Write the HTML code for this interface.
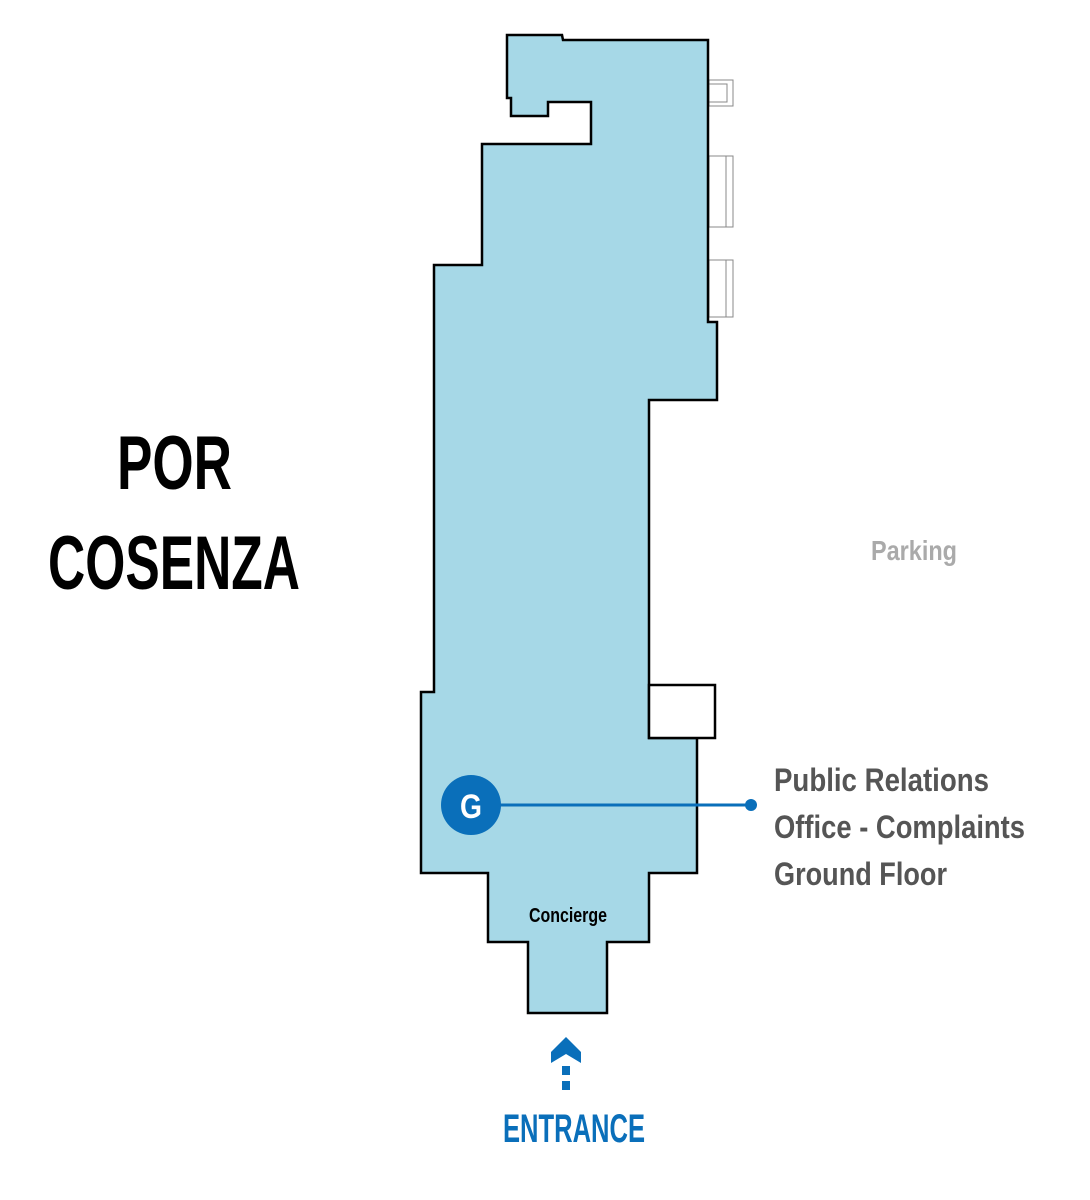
<!DOCTYPE html>
<html><head><meta charset="utf-8"><style>body{margin:0;background:#fff}svg{display:block}</style></head><body>
<svg width="1090" height="1200" viewBox="0 0 1090 1200" xmlns="http://www.w3.org/2000/svg">
<g fill="none" stroke="#888" stroke-width="1">
<rect x="709" y="80" width="24" height="26"/><rect x="709" y="84" width="18" height="18"/>
<rect x="709" y="156" width="24" height="71"/><line x1="726" y1="156" x2="726" y2="227"/>
<rect x="709" y="260" width="24" height="57"/><line x1="726" y1="260" x2="726" y2="317"/>
</g>
<polygon points="507,35 562,35 563,40 708,40 708,322 717,322 717,400 649,400 649,738 697,738 697,873 649,873 649,942 607,942 607,1013 528,1013 528,942 488,942 488,873 421,873 421,692 434,692 434,265 482,265 482,144 591,144 591,102 548,102 548,116 511,116 511,98 507,98" fill="#a6d8e7" stroke="#000" stroke-width="2.5" stroke-linejoin="miter"/>
<rect x="649" y="685" width="66" height="53" fill="#fff" stroke="#000" stroke-width="2.5"/>
<line x1="471" y1="805" x2="751" y2="805" stroke="#0a6fba" stroke-width="3"/>
<circle cx="751" cy="805" r="6" fill="#0a6fba"/>
<circle cx="471" cy="805" r="30" fill="#0a6fba"/>
<text x="471" y="818" text-anchor="middle" font-family="Liberation Sans, sans-serif" font-weight="bold" font-size="34" fill="#fff" textLength="22" lengthAdjust="spacingAndGlyphs">G</text>
<g font-family="Liberation Sans, sans-serif" font-weight="bold">
<text x="117" y="489" font-size="76" fill="#000" textLength="115" lengthAdjust="spacingAndGlyphs">POR</text>
<text x="48" y="589" font-size="76" fill="#000" textLength="252" lengthAdjust="spacingAndGlyphs">COSENZA</text>
<text x="871" y="560" font-size="28" fill="#aaa" textLength="86" lengthAdjust="spacingAndGlyphs">Parking</text>
<text x="774" y="791" font-size="32" fill="#555" textLength="215" lengthAdjust="spacingAndGlyphs">Public Relations</text>
<text x="774" y="838" font-size="32" fill="#555" textLength="251" lengthAdjust="spacingAndGlyphs">Office - Complaints</text>
<text x="774" y="885" font-size="32" fill="#555" textLength="173" lengthAdjust="spacingAndGlyphs">Ground Floor</text>
<text x="529" y="922" font-size="20" fill="#000" textLength="78" lengthAdjust="spacingAndGlyphs">Concierge</text>
<text x="503" y="1142" font-size="40" fill="#0a6fba" textLength="142" lengthAdjust="spacingAndGlyphs">ENTRANCE</text>
</g>
<polygon points="566,1037 581,1052 581,1063 566,1054 551,1063 551,1052" fill="#0a6fba"/>
<rect x="562" y="1066" width="8" height="9" fill="#0a6fba"/>
<rect x="562" y="1081" width="8" height="9" fill="#0a6fba"/>
</svg>
</body></html>
